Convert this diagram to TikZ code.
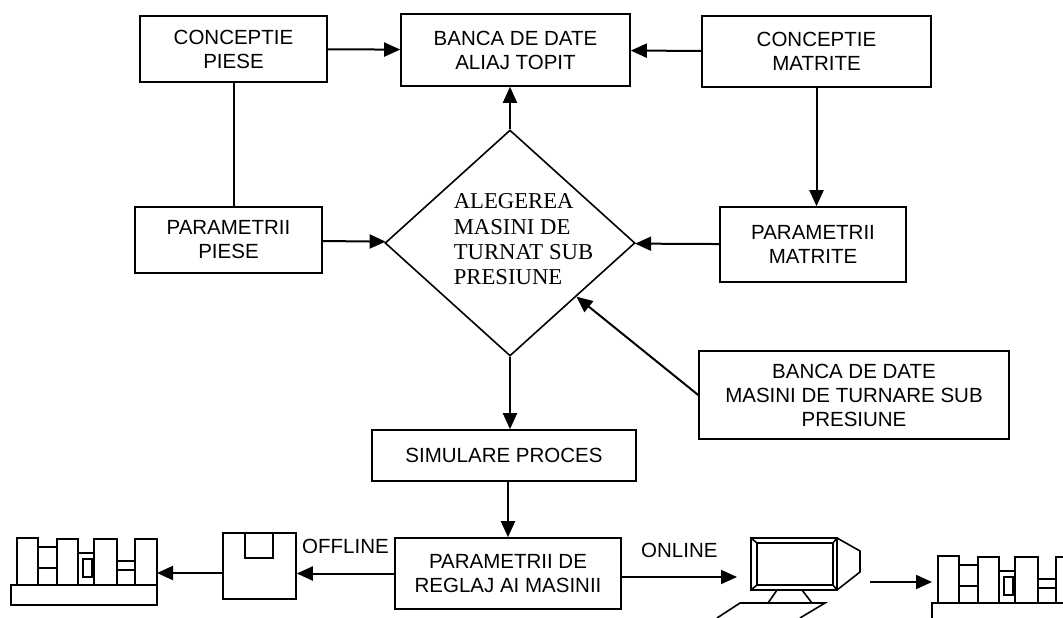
\documentclass[tikz,border=0pt]{standalone}
\usepackage{fontspec}
\setmainfont{Liberation Serif}
\setsansfont{Liberation Sans}
\usetikzlibrary{positioning,shapes.geometric,arrows.meta,calc}
\tikzstyle{mybox}=[draw,rectangle,align=center,inner sep=0pt,font=\sffamily\fontsize{20.5}{24}\selectfont]
\tikzstyle{mylabel}=[inner sep=0pt,font=\sffamily\fontsize{20.5}{24}\selectfont]
\tikzstyle{myarrow}=[draw,line width=2pt,->]
\newcommand{\presa}{%
  \draw (-6,0) rectangle (140,20);
  \draw (0,0) rectangle (21,-47);
  \draw (21,0) rectangle (40,-38) (21,-17) -- (40,-17);
  \draw (40,0) rectangle (61,-46);
  \draw (61,0) rectangle (77,-32) (66,-8) rectangle (75,-26);
  \draw (77,0) rectangle (100,-46);
  \draw (100,-24) -- (118,-24) (100,-15) -- (118,-15);
  \draw (118,0) rectangle (140,-46);
}

\begin{document}
\begin{tikzpicture}[x=1pt,y=-1pt,line width=1.6pt,>={Triangle[length=16pt,width=14pt]}]
  \useasboundingbox (0,0) rectangle (1063,618);
  \clip (0,0) rectangle (1063,618);

  \node[mybox,minimum width=187pt,minimum height=66pt] (conpiese) at (233.5,49) {CONCEPTIE\\PIESE};
  \node[mybox,minimum width=229pt,minimum height=72pt] (bancaaliaj) at (515.5,50) {BANCA DE DATE\\ALIAJ TOPIT};
  \node[mybox,minimum width=229pt,minimum height=71pt] (conmatrite) at (816.5,51.5) {CONCEPTIE\\MATRITE};
  \node[mybox,minimum width=187pt,minimum height=66pt] (parpiese) at (228.5,240) {PARAMETRII\\PIESE};
  \node[mybox,minimum width=186pt,minimum height=75pt] (parmatrite) at (813,244.5) {PARAMETRII\\MATRITE};
  \node[mybox,minimum width=310pt,minimum height=88pt] (bancamasini) at (854,395) {BANCA DE DATE\\MASINI DE TURNARE SUB\\PRESIUNE};
  \node[mybox,minimum width=264pt,minimum height=51pt] (simulare) at (504,455.5) {SIMULARE PROCES};
  \node[mybox,minimum width=226pt,minimum height=71pt] (reglaj) at (508,573.5) {PARAMETRII DE\\REGLAJ AI MASINII};

  \node[draw,diamond,minimum width=250pt,minimum height=226pt,inner sep=0pt] (alegere) at (510,243) {};
  \node[anchor=north west,align=left,inner sep=0pt,font=\fontsize{22.7}{25.3}\selectfont] (alegtxt) at (453,193)
    {ALEGEREA\\MASINI DE\\TURNAT SUB\\PRESIUNE};

  % dischete
  \node[draw,rectangle,minimum width=73pt,minimum height=66pt,inner sep=0pt] (disc) at (259.5,566) {};
  \draw (245,533) -- (245,558) -- (273,558) -- (273,533);

  % calculator
  \draw (751,538) rectangle (837,590);
  \draw (757,543) rectangle (833,585);
  \draw (751,538) -- (757,543) (837,538) -- (833,543) (751,590) -- (757,585) (837,590) -- (833,585);
  \draw (837,538) -- (860,551) -- (860,572) -- (837,590);
  \draw (777,590) -- (768,603) (802,590) -- (812,603);
  \draw (717,618) -- (740,603) -- (825,603) -- (800,618);

  % masini de turnat
  \begin{scope}[shift={(17,585)}]
    \presa
  \end{scope}
  \begin{scope}[shift={(938,603)}]
    \presa
  \end{scope}

  \coordinate (presa1) at (157,573);
  \coordinate (presa2) at (932,582);
  \coordinate (ecranin) at (737,577);
  \coordinate (ecranout) at (870,582);

  \path[every edge/.style={myarrow}]
    (conpiese) edge (bancaaliaj)
    (conmatrite) edge (bancaaliaj)
    (conpiese) edge[-] (conpiese |- parpiese.north)
    (conmatrite) edge (conmatrite |- parmatrite.north)
    (parpiese) edge (alegere)
    (parmatrite) edge (alegere)
    (bancamasini.west) edge (alegere)
    (alegere) edge (alegere |- bancaaliaj.south)
    (alegere) edge (alegere |- simulare.north)
    (reglaj |- simulare.south) edge (reglaj)
    (reglaj) edge node[mylabel,above=19pt] (offline) {OFFLINE} (reglaj -| disc.east)
    (disc.west |- presa1) edge (presa1)
    (reglaj.east |- ecranin) edge node[mylabel,above=18pt] (online) {ONLINE} (ecranin)
    (ecranout) edge (presa2);
\end{tikzpicture}
\end{document}
